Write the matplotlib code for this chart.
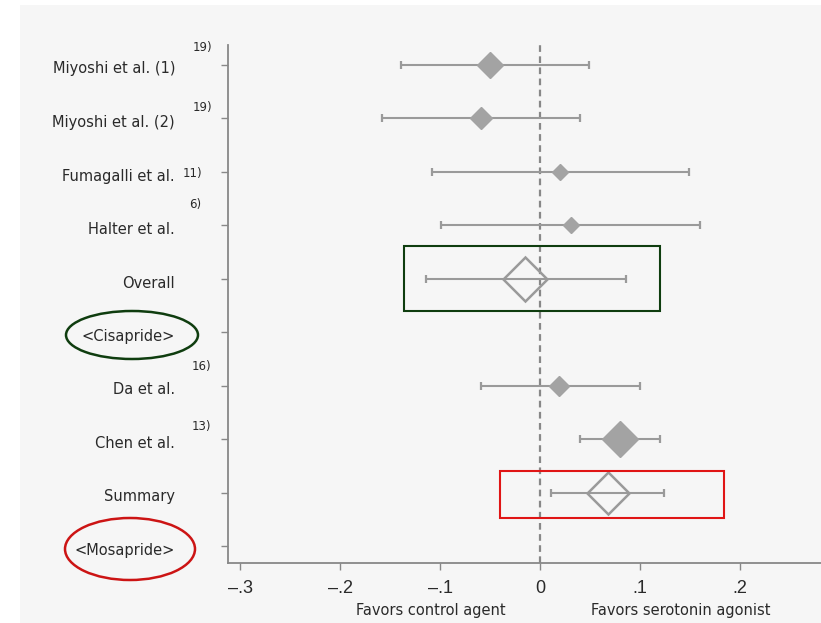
import matplotlib
matplotlib.use("Agg")
from matplotlib import pyplot as plt
from matplotlib.patches import Rectangle, Ellipse
import numpy as np

plt.rcParams['font.family'] = ['DejaVu Sans']

# datos del forest plot (de arriba hacia abajo)
etiquetas = ["Miyoshi et al. (1)", "Miyoshi et al. (2)", "Fumagalli et al.",
             "Halter et al.", "Overall", "<Cisapride>", "Da et al.",
             "Chen et al.", "Summary", "<Mosapride>"]
referencias = ["19)", "19)", "11)", "6)", "", "", "16)", "13)", "", ""]

estudios_y = [0, 1, 2, 3, 6, 7]
estudios_est = [-0.050, -0.059, 0.020, 0.031, 0.019, 0.080]
estudios_lo = [-0.139, -0.158, -0.108, -0.099, -0.059, 0.040]
estudios_hi = [0.049, 0.040, 0.149, 0.160, 0.100, 0.120]

resumen_y = [4, 8]
resumen_est = [-0.015, 0.068]
resumen_lo = [-0.114, 0.011]
resumen_hi = [0.086, 0.124]

xticks = [-0.3, -0.2, -0.1, 0, 0.1, 0.2]
xticklabels = ["\u2013.3", "\u2013.2", "\u2013.1", "0", ".1", ".2"]

# estilo (tamaño de rombos y posicion de las referencias)
estudios_tam = [13.0, 11.5, 8.5, 8.5, 10.5, 18.5]
resumen_tam = [22.5, 21.0]
ref_dx = [193, 193, 183, 189, 0, 0, 192, 192, 0, 0]
ref_dy = [-17, -11, 1, -21, 0, 0, -19, -13, 0, 0]

W, H = 821, 623
fig = plt.figure(figsize=(W / 100, H / 100), dpi=100, facecolor="white")


def fx(px):
    return px / W


def fy(py):
    return 1 - py / H


# fondo gris
fig.patches.append(Rectangle((fx(20), 0), 1 - fx(20), fy(5), transform=fig.transFigure,
                             facecolor="#f6f6f6", edgecolor="none", zorder=-1))

ax = fig.add_axes([fx(228), fy(563), 1 - fx(228), fy(45) - fy(563)])
ax.set_facecolor("none")

gris = "#9a9a9a"

ax.axvline(0, color="#888888", ls=(0, (3, 2)), lw=1.6, zorder=1)

ax.errorbar(estudios_est, estudios_y,
            xerr=[np.array(estudios_est) - np.array(estudios_lo),
                  np.array(estudios_hi) - np.array(estudios_est)],
            fmt="none", ecolor=gris, elinewidth=1.5, capsize=3, capthick=1.6, zorder=2)
for x, y, s in zip(estudios_est, estudios_y, estudios_tam):
    ax.plot(x, y, marker="D", ms=s, color="#a3a3a3", mec="#a3a3a3", zorder=3)

ax.errorbar(resumen_est, resumen_y,
            xerr=[np.array(resumen_est) - np.array(resumen_lo),
                  np.array(resumen_hi) - np.array(resumen_est)],
            fmt="none", ecolor=gris, elinewidth=1.5, capsize=3, capthick=1.6, zorder=2)
for x, y, s in zip(resumen_est, resumen_y, resumen_tam):
    ax.plot(x, y, marker="D", ms=s, mfc="none", mec="#9a9a9a", mew=1.8, zorder=3)

ax.set_xlim(-0.312, 0.281)
ax.set_ylim(9.31, -0.374)

ax.set_yticks(range(len(etiquetas)))
ax.set_yticklabels([])
ax.set_xticks(xticks)
ax.set_xticklabels(xticklabels, fontsize=13, color="#2a2a2a", family="Liberation Sans")
ax.tick_params(axis="x", length=5, width=1, color="#888888", pad=7)
ax.tick_params(axis="y", length=5, width=1, color="#888888")

for lado in ["top", "right"]:
    ax.spines[lado].set_visible(False)
for lado in ["left", "bottom"]:
    ax.spines[lado].set_color("#888888")
    ax.spines[lado].set_linewidth(1.3)

# etiquetas de los estudios y referencias
for i, (et, ref) in enumerate(zip(etiquetas, referencias)):
    yc = 65 + 53.5 * i
    fig.text(fx(175), fy(yc + 4), et, ha="right", va="center",
             fontsize=10.5, color="#2a2a2a")
    if ref:
        fig.text(fx(ref_dx[i]), fy(yc + ref_dy[i]), ref, ha="left", va="center",
                 fontsize=8.5, color="#2a2a2a")

fig.text(fx(431), fy(611), "Favors control agent", ha="center", va="center",
         fontsize=10.5, color="#2a2a2a")
fig.text(fx(681), fy(611), "Favors serotonin agonist", ha="center", va="center",
         fontsize=10.5, color="#2a2a2a")

# marcas resaltadas
fig.patches.append(Rectangle((fx(404), fy(311)), fx(660) - fx(404), fy(246) - fy(311),
                             transform=fig.transFigure, fill=False,
                             edgecolor="#0f3d0f", lw=1.5, zorder=5))
fig.patches.append(Rectangle((fx(500), fy(518)), fx(724) - fx(500), fy(471) - fy(518),
                             transform=fig.transFigure, fill=False,
                             edgecolor="#e01515", lw=1.5, zorder=5))
fig.patches.append(Ellipse((fx(132), fy(335)), fx(132), 48 / H,
                           transform=fig.transFigure, fill=False,
                           edgecolor="#0f3d0f", lw=1.8, zorder=5))
fig.patches.append(Ellipse((fx(130), fy(549)), fx(130), 62 / H,
                           transform=fig.transFigure, fill=False,
                           edgecolor="#cc1414", lw=1.8, zorder=5))

fig.savefig("out.png", dpi=100, facecolor=fig.get_facecolor())
